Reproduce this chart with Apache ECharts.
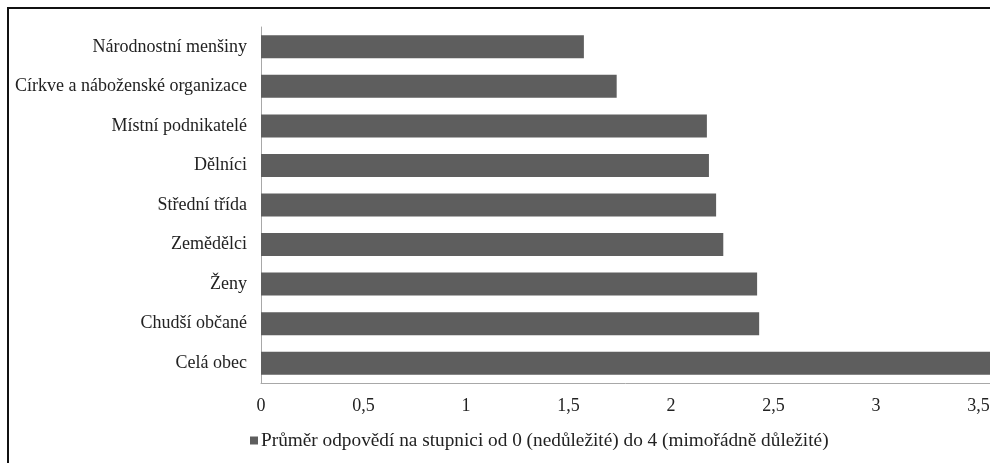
<!DOCTYPE html>
<html>
<head>
<meta charset="utf-8">
<script src="https://cdn.jsdelivr.net/npm/echarts@6/dist/echarts.min.js"></script>
<style>
html,body{margin:0;padding:0;background:#fff;}
#wrap{position:relative;width:990px;height:463px;overflow:hidden;}
#chart{position:absolute;left:0;top:0;width:990px;height:463px;}
#frame{position:absolute;left:7px;top:7px;width:1000px;height:470px;border-left:2px solid #111;border-top:2px solid #111;pointer-events:none;}
</style>
</head>
<body>
<div id="wrap"><div id="chart"></div><div id="frame"></div></div>
<script>
const categories = ["Celá obec","Chudší občané","Ženy","Zemědělci","Střední třída","Dělníci","Místní podnikatelé","Církve a náboženské organizace","Národnostní menšiny"];
const values = [3.6, 2.43, 2.42, 2.255, 2.22, 2.185, 2.175, 1.735, 1.575];
const seriesName = "Průměr odpovědí na stupnici od 0 (nedůležité) do 4 (mimořádně důležité)";
const xTicks = {min: 0, max: 3.556, interval: 0.5};

const chart = echarts.init(document.getElementById('chart'), null, {renderer: 'canvas'});
const font = "'Liberation Serif', 'Times New Roman', Times, serif";
function fmt(v) {
  return Math.abs(v * 2 - Math.round(v * 2)) < 1e-6 ? String(v).replace('.', ',') : '';
}
chart.setOption({
  animation: false,
  backgroundColor: '#fff',
  textStyle: {fontFamily: font},
  grid: {left: 261, top: 27, right: 0, bottom: 80, containLabel: false, outerBoundsMode: 'none'},
  legend: {
    data: [seriesName],
    left: 245, top: 426,
    icon: 'rect', itemWidth: 8, itemHeight: 8, itemGap: 4,
    textStyle: {fontFamily: font, fontSize: 19.3, color: '#222', padding: [0,0,0,-2]}
  },
  xAxis: {
    type: 'value', min: xTicks.min, max: xTicks.max, interval: xTicks.interval,
    axisLine: {show: true, lineStyle: {color: '#a8a8a8', width: 1}},
    axisTick: {show: false},
    splitLine: {show: false},
    axisLabel: {
      fontFamily: font, fontSize: 18, color: '#222', margin: 14,
      showMaxLabel: false,
      formatter: fmt
    }
  },
  yAxis: {
    type: 'category', data: categories,
    axisLine: {show: true, lineStyle: {color: '#a8a8a8', width: 1}},
    axisTick: {show: false},
    axisLabel: {fontFamily: font, fontSize: 18, color: '#222', margin: 14}
  },
  series: [{
    name: seriesName, type: 'bar', data: values,
    barWidth: 23, clip: true,
    itemStyle: {color: '#5e5e5e'}
  }]
});
</script>
</body>
</html>
